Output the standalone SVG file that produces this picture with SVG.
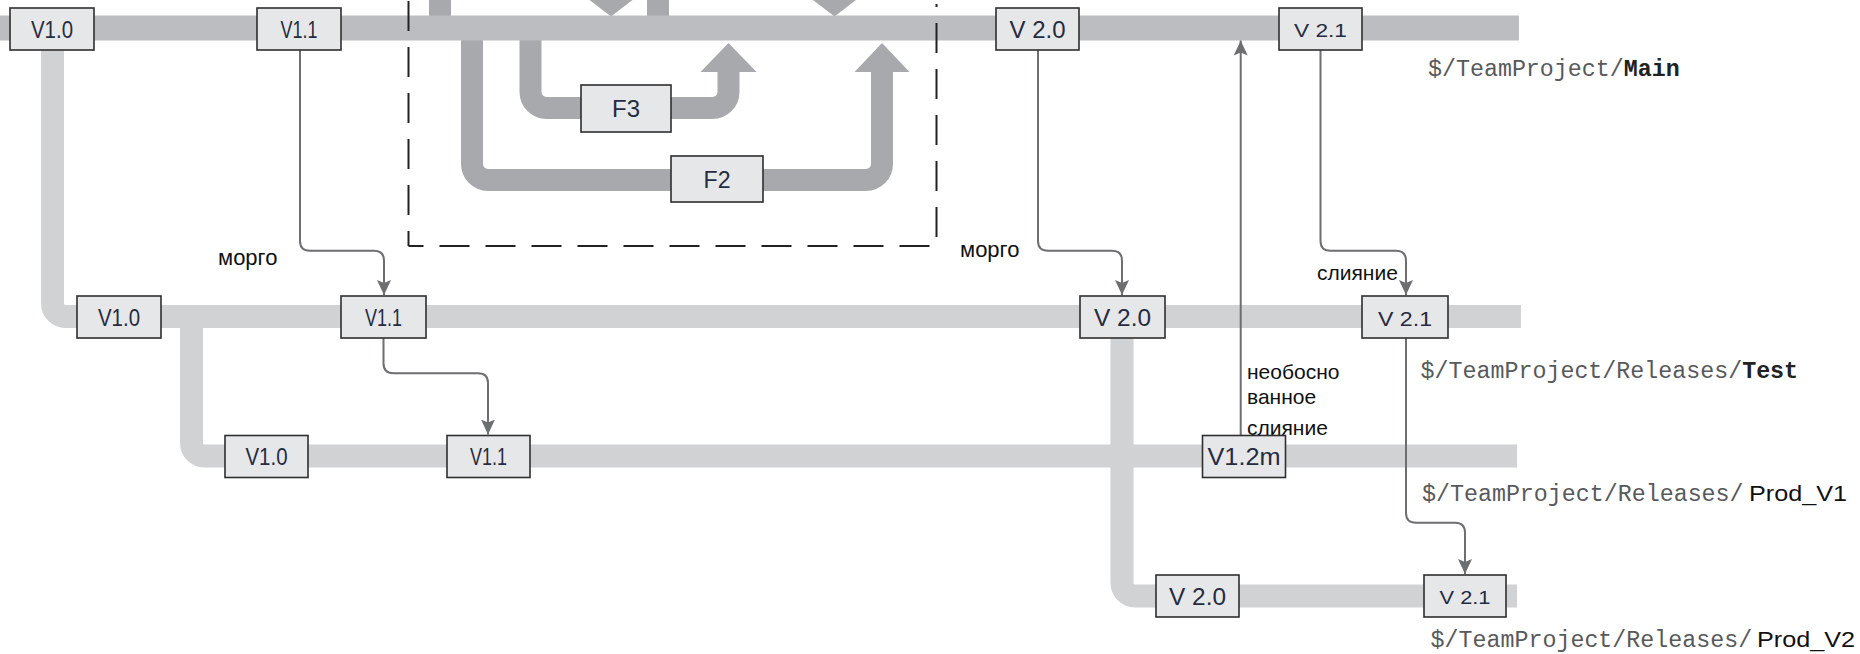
<svg xmlns="http://www.w3.org/2000/svg" width="1860" height="654" viewBox="0 0 1860 654">
<defs>
<marker id="ah" markerWidth="16" markerHeight="16" refX="15" refY="7.5" orient="auto" markerUnits="userSpaceOnUse">
<path d="M0,0.5 L15,7.5 L0,14.5 L3,7.5 z" fill="#6d6e70"/>
</marker>
<style>
.bar{fill:none;stroke-linecap:butt;stroke-linejoin:round}
.main{stroke:#bcbdc0;stroke-width:25}
.rel{stroke:#d1d2d4;stroke-width:23}
.feat{stroke:#a7a9ac;stroke-width:22;fill:none}
.featfill{fill:#a7a9ac}
.box{fill:#e6e7e8;stroke:#2f2f2f;stroke-width:1.6}
.bl{font-family:"Liberation Sans",Arial,sans-serif;font-size:24px;fill:#262b3f;text-anchor:middle}
.bs{font-family:"Liberation Sans",Arial,sans-serif;font-size:19px;fill:#262b3f;text-anchor:middle}
.conn{fill:none;stroke:#6d6e70;stroke-width:2}
.lbl{font-family:"Liberation Sans",Arial,sans-serif;font-size:21px;fill:#111}
.path{font-family:"Liberation Mono","Courier New",monospace;font-size:23.3px;fill:#58595b}
.pb{font-weight:bold;fill:#222}
.ps{font-family:"Liberation Sans",Arial,sans-serif;font-size:22px;fill:#111}
.dash{fill:none;stroke:#222;stroke-width:2;stroke-dasharray:30 16;stroke-dashoffset:15}
</style>
</defs>
<rect width="1860" height="654" fill="#ffffff"/>

<g id="branches">
  <polygon class="featfill" points="583,-5 639,-5 611,16.5"/>
  <polygon class="featfill" points="806.5,-5 862.5,-5 834.5,16.5"/>
  <line class="feat" x1="440" y1="0" x2="440" y2="20"/>
  <line class="feat" x1="658" y1="0" x2="658" y2="20"/>
  <path class="feat" d="M472,36 V164 A16,16 0 0 0 488,180 H866 A16,16 0 0 0 882,164 V70"/>
  <polygon class="featfill" points="854.5,72 909.5,72 882,43"/>
  <path class="feat" d="M530.5,36 V92 A16,16 0 0 0 546.5,108 H712.5 A16,16 0 0 0 728.5,92 V70"/>
  <polygon class="featfill" points="700.5,72 756.5,72 728.5,43"/>
  <path class="bar rel" d="M52.5,36 V303.5 A13,13 0 0 0 65.5,316.5 H1521"/>
  <path class="bar rel" d="M191.5,316 V443 A13,13 0 0 0 204.5,456 H1517"/>
  <path class="bar rel" d="M1122,316 V583 A13,13 0 0 0 1135,596 H1517"/>
  <line class="bar main" x1="0" y1="28" x2="1519" y2="28"/>
</g>

<g id="feature-area">
  <path class="dash" d="M408.5,246 V0"/>
  <path class="dash" d="M408.5,246 H936.5 V4"/>
</g>

<g id="connectors">
  <path class="conn" d="M300,50 V240.7 Q300,250.7 310,250.7 H374 Q384,250.7 384,260.7 V295" marker-end="url(#ah)"/>
  <path class="conn" d="M383.5,338 V363.3 Q383.5,373.3 393.5,373.3 H478 Q488,373.3 488,383.3 V434.5" marker-end="url(#ah)"/>
  <path class="conn" d="M1038,50 V240.7 Q1038,250.7 1048,250.7 H1112 Q1122,250.7 1122,260.7 V295" marker-end="url(#ah)"/>
  <path class="conn" d="M1320.5,50 V240.7 Q1320.5,250.7 1330.5,250.7 H1396 Q1406,250.7 1406,260.7 V295" marker-end="url(#ah)"/>
  <path class="conn" d="M1406,338 V512.7 Q1406,522.7 1416,522.7 H1455 Q1465,522.7 1465,532.7 V574" marker-end="url(#ah)"/>
  <path class="conn" d="M1240.7,435.7 V40.5" marker-end="url(#ah)"/>
  <text class="lbl" x="218" y="265" style="font-size:22px">морго</text>
  <text class="lbl" x="960" y="257" style="font-size:22px">морго</text>
  <text class="lbl" x="1317" y="280">слияние</text>
  <text class="lbl" x="1247" y="379">необосно</text>
  <text class="lbl" x="1247" y="404">ванное</text>
  <text class="lbl" x="1247" y="435">слияние</text>
</g>

<g id="main-v10"><rect class="box" x="10" y="8" width="84" height="42"/><text class="bl" x="52" y="37.5" textLength="42" lengthAdjust="spacingAndGlyphs">V1.0</text></g>
<g id="main-v11"><rect class="box" x="257" y="8" width="84" height="42"/><text class="bl" x="299" y="37.5" textLength="37" lengthAdjust="spacingAndGlyphs">V1.1</text></g>
<g id="main-v20"><rect class="box" x="996" y="8" width="83" height="42"/><text class="bl" x="1037.5" y="37.5" textLength="56" lengthAdjust="spacingAndGlyphs">V 2.0</text></g>
<g id="main-v21"><rect class="box" x="1279" y="8" width="83" height="42"/><text class="bs" x="1320.5" y="37.3" textLength="53" lengthAdjust="spacingAndGlyphs">V 2.1</text></g>

<g id="f3"><rect class="box" x="581" y="85" width="90" height="47"/><text class="bl" x="626" y="116.7" textLength="28" lengthAdjust="spacingAndGlyphs">F3</text></g>
<g id="f2"><rect class="box" x="671" y="156" width="92" height="46"/><text class="bl" x="717" y="188.3" textLength="27" lengthAdjust="spacingAndGlyphs">F2</text></g>

<g id="test-v10"><rect class="box" x="77" y="296" width="84" height="42"/><text class="bl" x="119" y="325.5" textLength="42" lengthAdjust="spacingAndGlyphs">V1.0</text></g>
<g id="test-v11"><rect class="box" x="341" y="296" width="85" height="42"/><text class="bl" x="383.5" y="325.5" textLength="37" lengthAdjust="spacingAndGlyphs">V1.1</text></g>
<g id="test-v20"><rect class="box" x="1080" y="296" width="85" height="42"/><text class="bl" x="1122.5" y="325.5" textLength="57" lengthAdjust="spacingAndGlyphs">V 2.0</text></g>
<g id="test-v21"><rect class="box" x="1362" y="296" width="86" height="42"/><text class="bs" x="1405" y="325.5" textLength="54" lengthAdjust="spacingAndGlyphs" style="font-size:21px">V 2.1</text></g>

<g id="prod1-v10"><rect class="box" x="225" y="435.5" width="83" height="42"/><text class="bl" x="266.5" y="465" textLength="42" lengthAdjust="spacingAndGlyphs">V1.0</text></g>
<g id="prod1-v11"><rect class="box" x="447" y="435.5" width="83" height="42"/><text class="bl" x="488.5" y="465" textLength="37" lengthAdjust="spacingAndGlyphs">V1.1</text></g>
<g id="prod1-v12m"><rect class="box" x="1202.5" y="435.5" width="83" height="42"/><text class="bl" x="1244" y="465" textLength="73" lengthAdjust="spacingAndGlyphs">V1.2m</text></g>

<g id="prod2-v20"><rect class="box" x="1156" y="575" width="83" height="42"/><text class="bl" x="1197.5" y="604.5" textLength="57" lengthAdjust="spacingAndGlyphs">V 2.0</text></g>
<g id="prod2-v21"><rect class="box" x="1424" y="575" width="82" height="42"/><text class="bs" x="1465" y="604" textLength="51" lengthAdjust="spacingAndGlyphs">V 2.1</text></g>

<g id="paths">
  <text class="path" x="1428" y="76">$/TeamProject/<tspan class="pb">Main</tspan></text>
  <text class="path" x="1420.6" y="378">$/TeamProject/Releases/<tspan class="pb">Test</tspan></text>
  <text class="path" x="1422" y="500.7">$/TeamProject/Releases/</text>
  <text class="ps" x="1749" y="500.7" textLength="98" lengthAdjust="spacingAndGlyphs">Prod_V1</text>
  <text class="path" x="1430.6" y="646.7">$/TeamProject/Releases/</text>
  <text class="ps" x="1757" y="646.7" textLength="98" lengthAdjust="spacingAndGlyphs">Prod_V2</text>
</g>
</svg>
